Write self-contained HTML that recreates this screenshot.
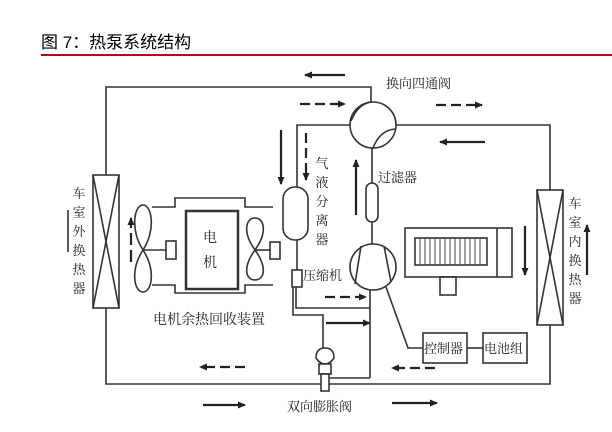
<!DOCTYPE html>
<html><head><meta charset="utf-8"><style>
html,body{margin:0;padding:0;background:#fff;width:612px;height:432px;overflow:hidden}
svg{display:block}
text{font-family:"Liberation Serif","Noto Serif CJK SC","Noto Sans CJK SC",serif;fill:#222}
.t{font-family:"Liberation Sans","Noto Sans CJK SC",sans-serif;fill:#000}
</style></head><body>
<svg width="612" height="432" viewBox="0 0 612 432" xmlns="http://www.w3.org/2000/svg">
<defs>
<marker id="ah" markerWidth="8" markerHeight="8" refX="7" refY="4" orient="auto" markerUnits="userSpaceOnUse">
<path d="M0,0.5 L8,4 L0,7.5 Z" fill="#222"/></marker>
</defs>
<text class="t" x="41" y="48" font-size="17">图 7：热泵系统结构</text>
<line x1="41" y1="55" x2="612" y2="55" stroke="#c00000" stroke-width="2"/>
<g stroke="#333" stroke-width="1.6" fill="none">
<polyline points="371,102 371,87 106,87 106,175"/>
<polyline points="106,308 106,384 550,384 550,325"/>
<polyline points="396,125 550,125 550,190"/>
<polyline points="350,125 297,125 297,187"/>
<rect x="93" y="175" width="26" height="133" fill="#fff"/>
<line x1="93" y1="175" x2="119" y2="308"/><line x1="119" y1="175" x2="93" y2="308"/>
<rect x="537" y="190" width="26" height="135" fill="#fff"/>
<line x1="537" y1="190" x2="563" y2="325"/><line x1="563" y1="190" x2="537" y2="325"/>
<circle cx="373" cy="125" r="23" fill="#fff"/>
<path d="M351,121 Q358,104 371,102"/>
<path d="M373,148 Q380,130 395,129"/>
<line x1="372" y1="148" x2="372" y2="244"/>
<rect x="366" y="183" width="12" height="39" rx="6" fill="#fff"/>
<circle cx="373" cy="267" r="23" fill="#fff"/>
<line x1="361" y1="246" x2="355" y2="284"/>
<line x1="384" y1="246" x2="391" y2="282"/>
<polyline points="386,287 408,348 423,348"/>
<line x1="370" y1="290" x2="370" y2="378"/>
<rect x="283" y="187" width="25" height="53" rx="12" fill="#fff"/>
<line x1="297" y1="240" x2="297" y2="270"/>
<rect x="292" y="270" width="10" height="17" fill="#fff"/>
<polyline points="296,287 296,308 370,308"/>
<polyline points="293,287 293,315 323,315 323,350"/>
<polyline points="370,378 330,378"/>
<path d="M316,358 Q316,348 325,348 Q334,348 334,358 Q330,364 325,364 Q320,364 316,358 Z" fill="#fff"/>
<rect x="319" y="364" width="12" height="10" fill="#fff"/>
<rect x="321" y="374" width="8" height="17" fill="#fff"/>
<polyline points="152,207 175,207 175,198 245,198 245,207 273,207"/>
<polyline points="152,285 175,285 175,293 245,293 245,285 273,285"/>
<rect x="186" y="211" width="52" height="78" stroke-width="2.5"/>
<path d="M143,250 C130,230 134,205 143,205 C152,205 156,230 143,250 C130,270 134,292 143,292 C152,292 156,270 143,250 Z"/>
<line x1="143" y1="250" x2="166" y2="250"/>
<rect x="166" y="241" width="10" height="18"/>
<path d="M255,250 C242,232 246,218 255,218 C264,218 268,232 255,250 C242,268 246,280 255,280 C264,280 268,268 255,250 Z"/>
<line x1="255" y1="250" x2="270" y2="250"/>
<rect x="270" y="242" width="10" height="17"/>
<line x1="68" y1="210" x2="68" y2="252"/>
<rect x="405" y="228" width="107" height="49"/>
<line x1="497" y1="228" x2="497" y2="277"/>
<rect x="415" y="238" width="72" height="27"/>
<rect x="440" y="277" width="16" height="18"/>
<rect x="423" y="333" width="44" height="30"/>
<rect x="483" y="333" width="44" height="30"/>
<line x1="467" y1="348" x2="483" y2="348"/>
</g>
<g stroke="#444" stroke-width="1">
<line x1="420" y1="238" x2="420" y2="265"/><line x1="425" y1="238" x2="425" y2="265"/><line x1="430" y1="238" x2="430" y2="265"/><line x1="435" y1="238" x2="435" y2="265"/><line x1="440" y1="238" x2="440" y2="265"/><line x1="445" y1="238" x2="445" y2="265"/><line x1="450" y1="238" x2="450" y2="265"/><line x1="455" y1="238" x2="455" y2="265"/><line x1="460" y1="238" x2="460" y2="265"/><line x1="465" y1="238" x2="465" y2="265"/><line x1="470" y1="238" x2="470" y2="265"/><line x1="475" y1="238" x2="475" y2="265"/><line x1="480" y1="238" x2="480" y2="265"/>
</g>
<g stroke="#222" stroke-width="2.2" fill="none" marker-end="url(#ah)">
<line x1="345" y1="75" x2="305" y2="75"/>
<line x1="300" y1="104" x2="345" y2="104" stroke-dasharray="10,5"/>
<line x1="436" y1="105" x2="482" y2="105" stroke-dasharray="10,5"/>
<line x1="485" y1="142" x2="440" y2="142"/>
<line x1="281" y1="130" x2="281" y2="184"/>
<line x1="306" y1="133" x2="306" y2="180" stroke-dasharray="10,5"/>
<line x1="356" y1="215" x2="356" y2="160"/>
<line x1="131" y1="262" x2="131" y2="218" stroke-dasharray="12,5"/>
<line x1="325" y1="297" x2="366" y2="297" stroke-dasharray="10,5"/>
<line x1="326" y1="323" x2="370" y2="323"/>
<line x1="525" y1="226" x2="525" y2="275"/>
<line x1="587" y1="275" x2="587" y2="225"/>
<line x1="245" y1="367" x2="200" y2="367" stroke-dasharray="10,5"/>
<line x1="203" y1="405" x2="245" y2="405"/>
<line x1="435" y1="368" x2="392" y2="368" stroke-dasharray="10,5"/>
<line x1="392" y1="403" x2="437" y2="403"/>
</g>
<g font-size="13">
<text x="386" y="88">换向四通阀</text>
<text x="378" y="182">过滤器</text>
<text x="303" y="280">压缩机</text>
<text x="153" y="324" font-size="14">电机余热回收装置</text>
<text x="287" y="411">双向膨胀阀</text>
<text x="424" y="353">控制器</text>
<text x="484" y="353">电池组</text>
<text x="203" y="242" font-size="14">电</text>
<text x="203" y="267" font-size="14">机</text>
</g>
<g font-size="13" text-anchor="middle">
<text x="79" y="198">车</text><text x="79" y="217">室</text><text x="79" y="236">外</text><text x="79" y="255">换</text><text x="79" y="274">热</text><text x="79" y="293">器</text>
<text x="322" y="168">气</text><text x="322" y="187">液</text><text x="322" y="206">分</text><text x="322" y="225">离</text><text x="322" y="244">器</text>
<text x="575" y="208">车</text><text x="575" y="227">室</text><text x="575" y="246">内</text><text x="575" y="265">换</text><text x="575" y="284">热</text><text x="575" y="303">器</text>
</g>
</svg>
</body></html>
